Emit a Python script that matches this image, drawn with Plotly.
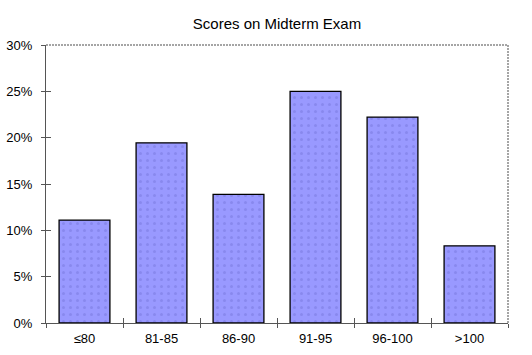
import plotly.graph_objects as go

categories = ["≤80", "81-85", "86-90", "91-95", "96-100", ">100"]
shares = [4/36, 7/36, 5/36, 9/36, 8/36, 3/36]
y_ticks = [0, 0.05, 0.10, 0.15, 0.20, 0.25, 0.30]
y_tick_labels = ["0%", "5%", "10%", "15%", "20%", "25%", "30%"]

fig = go.Figure()
fig.add_trace(go.Bar(
    x=categories, y=shares,
    marker=dict(color="#9999FF", line=dict(color="black", width=1.3),
                pattern=dict(shape=".", fgcolor="#7777DD", bgcolor="#9999FF",
                             size=7, solidity=0.15)),
    width=0.66,
))
# invisible trace for overlay axes (inside tick halves)
fig.add_trace(go.Scatter(x=categories, y=shares, xaxis="x2", yaxis="y2",
                         mode="markers", marker=dict(opacity=0), hoverinfo="skip"))

font = dict(family="Liberation Sans, Arial, sans-serif", size=13, color="black")
axc = "#555"
fig.update_layout(
    width=532, height=355,
    margin=dict(l=46, r=24, t=45, b=32, autoexpand=False),
    paper_bgcolor="white", plot_bgcolor="white",
    showlegend=False,
    font=font,
    title=dict(text="Scores on Midterm Exam", x=0.5, xanchor="center",
               xref="paper", y=1 - 24/355, yanchor="middle",
               font=dict(family="Liberation Sans, Arial, sans-serif", size=15)),
    xaxis=dict(type="category", showline=True, linecolor=axc, linewidth=1,
               ticks="outside", ticklen=4, tickcolor=axc, tickson="boundaries",
               showgrid=False, tickfont=font, ticklabelstandoff=3, automargin=False),
    yaxis=dict(range=[0, 0.30], tickvals=y_ticks, ticktext=y_tick_labels,
               showline=True, linecolor=axc, linewidth=1,
               ticks="outside", ticklen=4, tickcolor=axc, automargin=False,
               showgrid=False, zeroline=False, tickfont=font, ticklabelstandoff=6),
    xaxis2=dict(type="category", overlaying="x", matches="x", showline=False,
                ticks="inside", ticklen=5, tickcolor=axc, tickson="boundaries",
                automargin=False,
                showticklabels=False, showgrid=False, side="bottom"),
    yaxis2=dict(range=[0, 0.30], overlaying="y", tickvals=y_ticks,
                ticks="inside", ticklen=5, tickcolor=axc, automargin=False,
                showticklabels=False, showgrid=False, zeroline=False, side="left"),
    shapes=[
        dict(type="line", xref="paper", yref="paper", x0=0, x1=1, y0=1, y1=1,
             line=dict(color="#888", width=1.5, dash="2px,1px")),
        dict(type="line", xref="paper", yref="paper", x0=1, x1=1, y0=0, y1=1,
             line=dict(color="#888", width=1.5, dash="2px,1px")),
    ],
)
fig.write_html("out.html")
